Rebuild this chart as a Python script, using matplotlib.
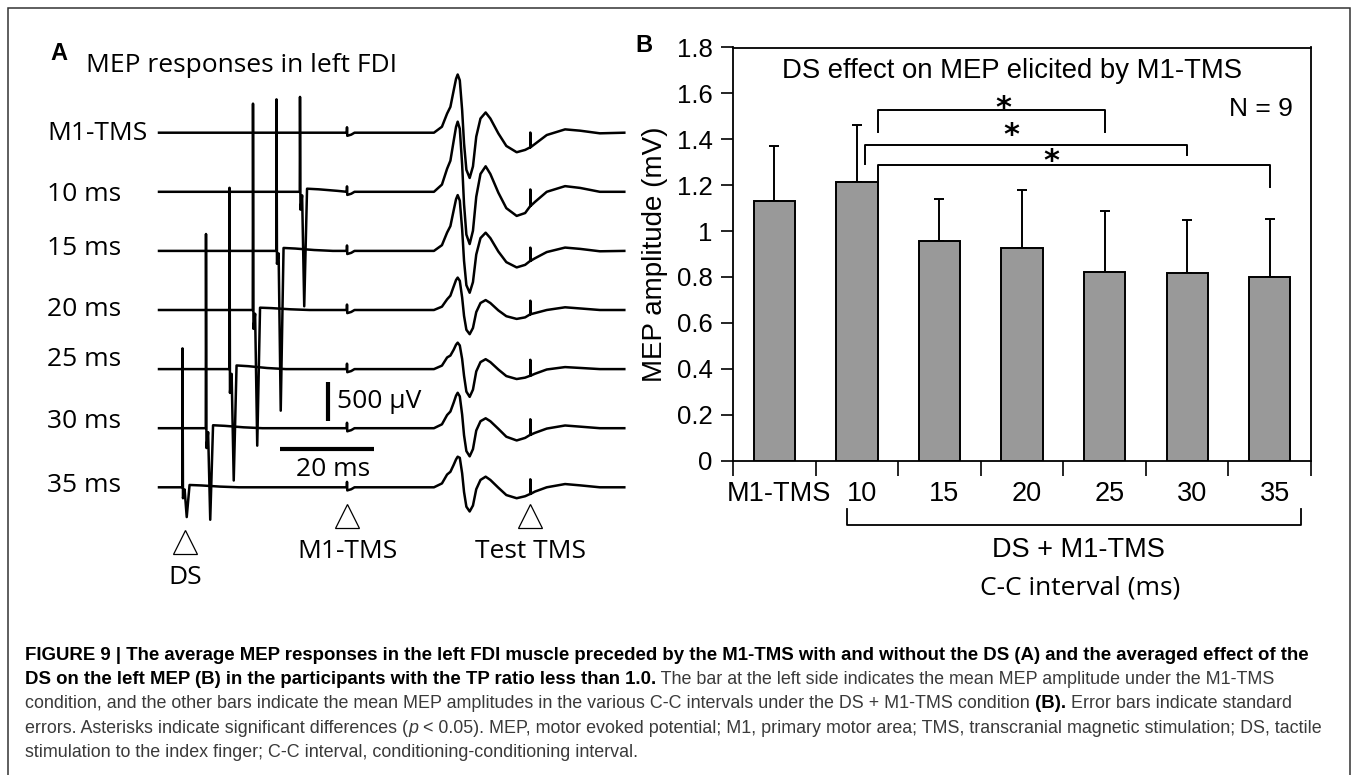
import matplotlib
matplotlib.use("Agg")
import matplotlib.pyplot as plt
from matplotlib.patches import Rectangle
import matplotlib.transforms as mtransforms
import numpy as np

W, H = 1354, 775

# ---------- Panel A: averaged MEP traces (ms from M1-TMS, amplitude in uV)
row_labels = ["M1-TMS", "10 ms", "15 ms", "20 ms", "25 ms", "30 ms", "35 ms"]
ds_interval = [0, 10, 15, 20, 25, 30, 35]
ds_up = [0, 1224, 1955, 2662, 2339, 2505, 1792]
ds_notch = [0, 230, 166, 243, 307, 256, 141]
ds_down = [0, 1477, 2061, 1750, 1437, 1181, 384]
ds_offset = [0, 40, 38, 30, 47, 38, 30]

m1_art_t = [-0.05, 0.0, 0.06, 0.9, 1.6]
m1_art_v = [0, 70, -40, -25, 0]

mep_t = [18.5, 20.2, 21.3, 22.0, 22.7, 23.2, 23.55, 24.0, 24.5, 24.9, 25.4,
         26.1, 26.8, 27.5, 28.4, 29.5, 30.5, 32.2, 33.9, 36.1, 37.9, 39.0]
mep_m1 = [0, 77, 247, 333, 546, 695, 751, 675, 290, -137, -478,
          -584, -435, -51, 183, 261, 183, -9, -171, -252, -222, -188]
mep_10 = [0, 93, 298, 401, 658, 837, 905, 813, 349, -158, -552,
          -674, -502, -64, 230, 329, 230, -11, -211, -311, -274, -183]
mep_15 = [0, 74, 237, 320, 524, 667, 720, 648, 278, -127, -442,
          -540, -402, -47, 165, 235, 165, -8, -145, -213, -180, -128]
mep_20 = [0, 43, 138, 185, 304, 387, 418, 376, 160, -75, -255,
          -312, -232, -27, 90, 128, 90, -5, -80, -115, -95, -55]
mep_25 = [0, 45, 150, 175, 250, 315, 341, 305, 130, -85, -290,
          -358, -265, -30, 90, 128, 90, -5, -90, -128, -110, -85]
mep_30 = [0, 50, 170, 215, 330, 420, 457, 410, 175, -90, -295,
          -363, -270, -30, 90, 128, 90, -8, -110, -158, -125, -85]
mep_35 = [0, 50, 165, 200, 290, 360, 395, 380, 180, -60, -250,
          -312, -235, -25, 95, 137, 95, -5, -100, -141, -115, -85]
mep_rows = [mep_m1, mep_10, mep_15, mep_20, mep_25, mep_30, mep_35]

test_t = 39.0
test_art = [190, 213, 170, 175, 205, 200, 188]
post_t = [39.05, 40.0, 42.5, 46.4, 49.6, 53.8, 59.0]
post_m1 = [-188, -145, -30, 43, 26, -8, 0]
post_10 = [-183, -130, 0, 73, 50, 0, 0]
post_15 = [-128, -95, -15, 43, 26, -5, 0]
post_20 = [-55, -40, 0, 35, 20, 0, 0]
post_25 = [-85, -60, -5, 26, 15, 0, 0]
post_30 = [-85, -60, -5, 35, 20, 0, 0]
post_35 = [-85, -55, 0, 42, 25, 0, 0]
post_rows = [post_m1, post_10, post_15, post_20, post_25, post_30, post_35]

event_t = {"DS": -34.5, "M1-TMS": 0.0, "Test TMS": 39.0}
scale_uv = 500
scale_ms = 20

# ---------- Panel B: mean MEP amplitude (mV)
categories = ["M1-TMS", "10", "15", "20", "25", "30", "35"]
means = [1.131, 1.212, 0.957, 0.926, 0.821, 0.817, 0.801]
err_top = [1.369, 1.462, 1.142, 1.178, 1.089, 1.047, 1.053]
sig_pairs = [(1, 4), (1, 5), (1, 6)]

caption = [
    [("FIGURE 9 | The average MEP responses in the left FDI muscle preceded by the M1-TMS with and without the DS (A) and the averaged effect of the", "bold", "normal")],
    [("DS on the left MEP (B) in the participants with the TP ratio less than 1.0.", "bold", "normal"),
     (" The bar at the left side indicates the mean MEP amplitude under the M1-TMS", "normal", "normal")],
    [("condition, and the other bars indicate the mean MEP amplitudes in the various C-C intervals under the DS + M1-TMS condition", "normal", "normal"),
     (" (B).", "bold", "normal"),
     (" Error bars indicate standard", "normal", "normal")],
    [("errors. Asterisks indicate significant differences (", "normal", "normal"),
     ("p", "normal", "italic"),
     (" < 0.05). MEP, motor evoked potential; M1, primary motor area; TMS, transcranial magnetic stimulation; DS, tactile", "normal", "normal")],
    [("stimulation to the index finger; C-C interval, conditioning-conditioning interval.", "normal", "normal")],
]

humanist = "Open Sans"
plt.rcParams["font.family"] = ["Liberation Sans", "DejaVu Sans"]

fig = plt.figure(figsize=(W / 100, H / 100), dpi=100)


def fx(x):
    return x / W


def fy(y):
    return 1 - y / H


# outer frame
fig.patches.append(Rectangle((fx(8), fy(790)), fx(1350) - fx(8), fy(8) - fy(790),
                             transform=fig.transFigure, fill=False,
                             edgecolor="#333333", linewidth=1.1))

# ---- panel A
px_ms = 4.7
uv_px = 12.9
t0_px, base_px = 347, 132.7
row_gap = 59.1 * uv_px
label_px = [133.3, 194.3, 248.3, 310, 359.3, 421.7, 485]
ax_a = fig.add_axes([0, fy(610), fx(680), fy(0) - fy(610)])
ax_a.set_xlim((0 - t0_px) / px_ms, (680 - t0_px) / px_ms)
ax_a.set_ylim((base_px - 610) * uv_px, (base_px - 0) * uv_px)
ax_a.axis("off")

for i in range(len(row_labels)):
    t = [-40.0]
    v = [0.0]
    d = ds_interval[i]
    if d:
        s = -d
        e = ds_offset[i]
        kt = [s - 0.05, s, s + 0.1, s + 0.45, s + 0.9, s + 1.5, s + 4, s + 8, s + 12]
        kv = [0, ds_up[i], -ds_notch[i], -0.2 * ds_notch[i], -ds_down[i], e, 0.8 * e, 0.3 * e, 0]
        for a, b in zip(kt, kv):
            if a < -0.1:
                t.append(a)
                v.append(b)
    t += m1_art_t
    v += m1_art_v
    t += mep_t
    v += mep_rows[i]
    t += [test_t]
    v += [mep_rows[i][-1] + test_art[i]]
    t += post_t
    v += post_rows[i]
    off = -i * row_gap
    ax_a.plot(t, np.array(v) + off, color="black", lw=1.8, solid_joinstyle="round")
    fig.text(fx(47), fy(label_px[i]), row_labels[i], family=humanist,
             fontsize=19, va="center", ha="left")

# scale bars
sb_t = -4.0
sb_y = (base_px - 382.3) * uv_px
ax_a.plot([sb_t, sb_t], [sb_y, sb_y - scale_uv], color="black", lw=3, solid_capstyle="butt")
hb_y = (base_px - 448.7) * uv_px
ax_a.plot([-14.3, -14.3 + scale_ms], [hb_y, hb_y], color="black", lw=3, solid_capstyle="butt")
fig.text(fx(337), fy(401), "500 \u00b5V", family=humanist, fontsize=19, va="center", ha="left")
fig.text(fx(333.5), fy(470), "20 ms", family=humanist, fontsize=19, va="center", ha="center")

# event markers
tri_y = {"DS": (base_px - 542) * uv_px, "M1-TMS": (base_px - 516) * uv_px,
         "Test TMS": (base_px - 516) * uv_px}
lab_y = {"DS": 578, "M1-TMS": 552, "Test TMS": 552}
for k, tv in event_t.items():
    ax_a.plot([tv], [tri_y[k]], marker="^", markersize=17, markerfacecolor="white",
              markeredgecolor="black", markeredgewidth=0.9, clip_on=False)
    xp = t0_px + tv * px_ms
    fig.text(fx(xp), fy(lab_y[k]), k, family=humanist, fontsize=19, va="center", ha="center")

fig.text(fx(59), fy(53), "A", fontsize=17, weight="bold", va="center", ha="center")
fig.text(fx(86), fy(66), "MEP responses in left FDI", family=humanist, fontsize=19,
         va="center", ha="left")

# ---- panel B
ax_b = fig.add_axes([fx(733), fy(460.6), fx(1311) - fx(733), fy(47.5) - fy(460.6)])
xc = np.arange(len(categories)) + 0.5
sems = np.array(err_top) - np.array(means)
ax_b.bar(xc, means, width=0.5, color="#999999", edgecolor="black", linewidth=1.4, zorder=3)
ax_b.errorbar(xc, means, yerr=[np.zeros(len(means)), sems], fmt="none", ecolor="black",
              elinewidth=1.4, capsize=3.8, capthick=1.4, zorder=2)
ax_b.set_xlim(0, len(categories))
ax_b.set_ylim(0, 1.8)
yt = np.round(np.arange(0, 1.81, 0.2), 1)
ax_b.set_yticks(yt)
ax_b.set_yticklabels([f"{v:g}" for v in yt], fontsize=18.5)
ax_b.set_xticks(np.arange(len(categories) + 1))
ax_b.set_xticklabels([])
ax_b.tick_params(axis="y", direction="out", length=8.5, width=1.2, pad=6)
ax_b.tick_params(axis="x", direction="out", length=10.5, width=1.2)
for sp in ax_b.spines.values():
    sp.set_linewidth(1.3)
trans = mtransforms.blended_transform_factory(ax_b.transData, ax_b.transAxes)
for xi, lab in zip(xc, categories):
    ax_b.text(xi + 0.06, -0.082, lab, transform=trans, fontsize=19.5,
              ha="center", va="center")

# significance brackets
br_left = [1.754, 1.594, 1.754]
br_top = [1.528, 1.375, 1.288]
br_lo_left = [1.433, 1.292, 1.212]
br_lo_right = [1.433, 1.331, 1.193]
star_x = [3.27, 3.375, 3.85]
star_y = [1.564, 1.448, 1.332]
for k, (a, b) in enumerate(sig_pairs):
    ax_b.plot([br_left[k], br_left[k], xc[b], xc[b]],
              [br_lo_left[k], br_top[k], br_top[k], br_lo_right[k]],
              color="black", lw=1.4, zorder=4)
    ax_b.text(star_x[k], star_y[k] - 0.03, "*", family="DejaVu Sans", fontsize=22,
              ha="center", va="center", weight="bold")

ax_b.text(3.38, 1.696, "DS effect on MEP elicited by M1-TMS", fontsize=19.8,
          ha="center", va="center")
ax_b.text(6.78, 1.53, "N = 9", fontsize=19, ha="right", va="center")
fig.text(fx(655), fy(254), "MEP amplitude (mV)", fontsize=20, rotation=90,
         ha="center", va="center")

# bracket under the DS + M1-TMS conditions
ax_b.plot([1.38, 1.38, 6.88, 6.88], [-0.117, -0.156, -0.156, -0.117], transform=trans,
          color="black", lw=1.3, clip_on=False)
ax_b.text(4.18, -0.2166, "DS + M1-TMS", transform=trans, fontsize=19.5,
          ha="center", va="center")
fig.text(fx(1080), fy(588), "C-C interval (ms)", family=humanist, fontsize=19,
         ha="center", va="center")
fig.text(fx(644), fy(46), "B", fontsize=17, weight="bold", va="center", ha="center")

# ---- caption
renderer = fig.canvas.get_renderer()
line_y = [655, 679.3, 703.5, 728.3, 752.7]
for ly, parts in zip(line_y, caption):
    x = fx(25)
    for s, wt, st in parts:
        col = "black" if wt == "bold" else "#3a3a3a"
        size = 13.4 if wt == "bold" else 12.9
        txt = fig.text(x, fy(ly), s, fontsize=size, weight=wt, style=st, color=col,
                       va="center", ha="left")
        bb = txt.get_window_extent(renderer)
        x = bb.x1 / W

fig.savefig("out.png", dpi=100)
